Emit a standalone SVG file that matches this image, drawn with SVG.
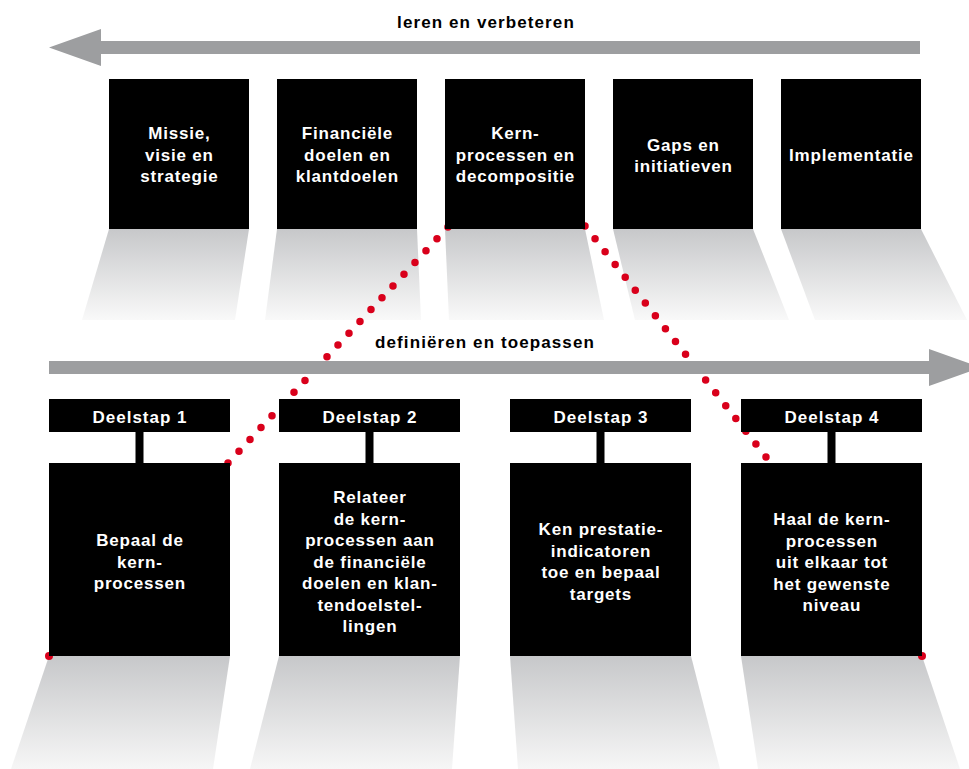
<svg xmlns="http://www.w3.org/2000/svg" width="969" height="769" viewBox="0 0 969 769">
<defs>
<linearGradient id="shadeTop" x1="0" y1="0" x2="0" y2="1">
<stop offset="0" stop-color="#c7c8ca"/>
<stop offset="1" stop-color="#f9f9f9"/>
</linearGradient>
<linearGradient id="shadeBot" x1="0" y1="0" x2="0" y2="1">
<stop offset="0" stop-color="#c7c8ca"/>
<stop offset="1" stop-color="#f6f6f6"/>
</linearGradient>
<style>
.box{fill:#000}
.t{font-family:"Liberation Sans",Arial,sans-serif;font-weight:bold;font-size:17px;fill:#fff;text-anchor:middle;letter-spacing:0.8px}
.h{font-family:"Liberation Sans",Arial,sans-serif;font-weight:bold;font-size:17px;fill:#fff;text-anchor:middle;letter-spacing:1px}
.lbl{font-family:"Liberation Sans",Arial,sans-serif;font-weight:bold;font-size:17px;fill:#000;text-anchor:middle;letter-spacing:1.1px}
.arrow{fill:#9d9ea0}
.dots{fill:none;stroke:#d9001b;stroke-width:7.5;stroke-linecap:round}
.dot{fill:#d9001b}
.st{fill:url(#shadeTop)}
.sb{fill:url(#shadeBot)}
</style>
</defs>
<rect width="969" height="769" fill="#fff"/>

<g id="shadows">
<polygon class="st" points="109,229 249,229 235,320 82,320"/>
<polygon class="st" points="277,229 417,229 421,320 265,320"/>
<polygon class="st" points="445,229 585,229 604,320 449,320"/>
<polygon class="st" points="613,229 753,229 789,320 635,320"/>
<polygon class="st" points="781,229 921,229 967,320 815,320"/>
<polygon class="sb" points="49,656 230,656 213,769 11,769"/>
<polygon class="sb" points="279,656 460,656 452,769 250,769"/>
<polygon class="sb" points="510,656 691,656 720,769 518,769"/>
<polygon class="sb" points="741,656 922,656 960,769 758,769"/>
</g>

<g id="connectors">
<line class="dots" x1="228" y1="463" x2="448" y2="227" stroke-dasharray="0 16.13"/>
<line class="dots" x1="585" y1="226" x2="766" y2="457" stroke-dasharray="0 16.3"/>
<circle class="dot" cx="49" cy="656" r="4"/>
<circle class="dot" cx="922" cy="656" r="4"/>
</g>

<g id="arrow-top">
<polygon class="arrow" points="920,41 101,41 101,29 49,47.5 101,66 101,54 920,54"/>
<text class="lbl" x="486" y="28">leren en verbeteren</text>
</g>
<g id="arrow-bottom">
<polygon class="arrow" points="49,361 929,361 929,349 981,367.5 929,386 929,374 49,374"/>
<text class="lbl" x="485" y="348">definiëren en toepassen</text>
</g>

<g id="top1"><rect class="box" x="109" y="79" width="140" height="150"/>
<text class="t" x="179.4" y="139">Missie,</text><text class="t" x="179.4" y="160.7">visie en</text><text class="t" x="179.4" y="182.4">strategie</text></g>
<g id="top2"><rect class="box" x="277" y="79" width="140" height="150"/>
<text class="t" x="347.4" y="139">Financiële</text><text class="t" x="347.4" y="160.7">doelen en</text><text class="t" x="347.4" y="182.4">klantdoelen</text></g>
<g id="top3"><rect class="box" x="445" y="79" width="140" height="150"/>
<text class="t" x="515.4" y="139">Kern-</text><text class="t" x="515.4" y="160.7">processen en</text><text class="t" x="515.4" y="182.4">decompositie</text></g>
<g id="top4"><rect class="box" x="613" y="79" width="140" height="150"/>
<text class="t" x="683.4" y="151">Gaps en</text><text class="t" x="683.4" y="172">initiatieven</text></g>
<g id="top5"><rect class="box" x="781" y="79" width="140" height="150"/>
<text class="t" x="851.4" y="161">Implementatie</text></g>

<g id="step1">
<rect class="box" x="49" y="399" width="181" height="33"/>
<rect class="box" x="135.5" y="432" width="8" height="31"/>
<rect class="box" x="49" y="463" width="181" height="193"/>
<text class="h" x="140" y="423">Deelstap 1</text>
<text class="t" x="139.9" y="546">Bepaal de</text><text class="t" x="139.9" y="567.5">kern-</text><text class="t" x="139.9" y="589">processen</text>
</g>
<g id="step2">
<rect class="box" x="279" y="399" width="181" height="33"/>
<rect class="box" x="365.5" y="432" width="8" height="31"/>
<rect class="box" x="279" y="463" width="181" height="193"/>
<text class="h" x="370" y="423">Deelstap 2</text>
<text class="t" x="369.9" y="503">Relateer</text><text class="t" x="369.9" y="524.5">de kern-</text><text class="t" x="369.9" y="546">processen aan</text><text class="t" x="369.9" y="567.5">de financiële</text><text class="t" x="369.9" y="589">doelen en klan-</text><text class="t" x="369.9" y="610.5">tendoelstel-</text><text class="t" x="369.9" y="632">lingen</text>
</g>
<g id="step3">
<rect class="box" x="510" y="399" width="181" height="33"/>
<rect class="box" x="596.5" y="432" width="8" height="31"/>
<rect class="box" x="510" y="463" width="181" height="193"/>
<text class="h" x="601" y="423">Deelstap 3</text>
<text class="t" x="600.9" y="535">Ken prestatie-</text><text class="t" x="600.9" y="556.5">indicatoren</text><text class="t" x="600.9" y="578">toe en bepaal</text><text class="t" x="600.9" y="599.5">targets</text>
</g>
<g id="step4">
<rect class="box" x="741" y="399" width="181" height="33"/>
<rect class="box" x="827.5" y="432" width="8" height="31"/>
<rect class="box" x="741" y="463" width="181" height="193"/>
<text class="h" x="832" y="423">Deelstap 4</text>
<text class="t" x="831.9" y="525">Haal de kern-</text><text class="t" x="831.9" y="546.5">processen</text><text class="t" x="831.9" y="568">uit elkaar tot</text><text class="t" x="831.9" y="589.5">het gewenste</text><text class="t" x="831.9" y="611">niveau</text>
</g>
</svg>
